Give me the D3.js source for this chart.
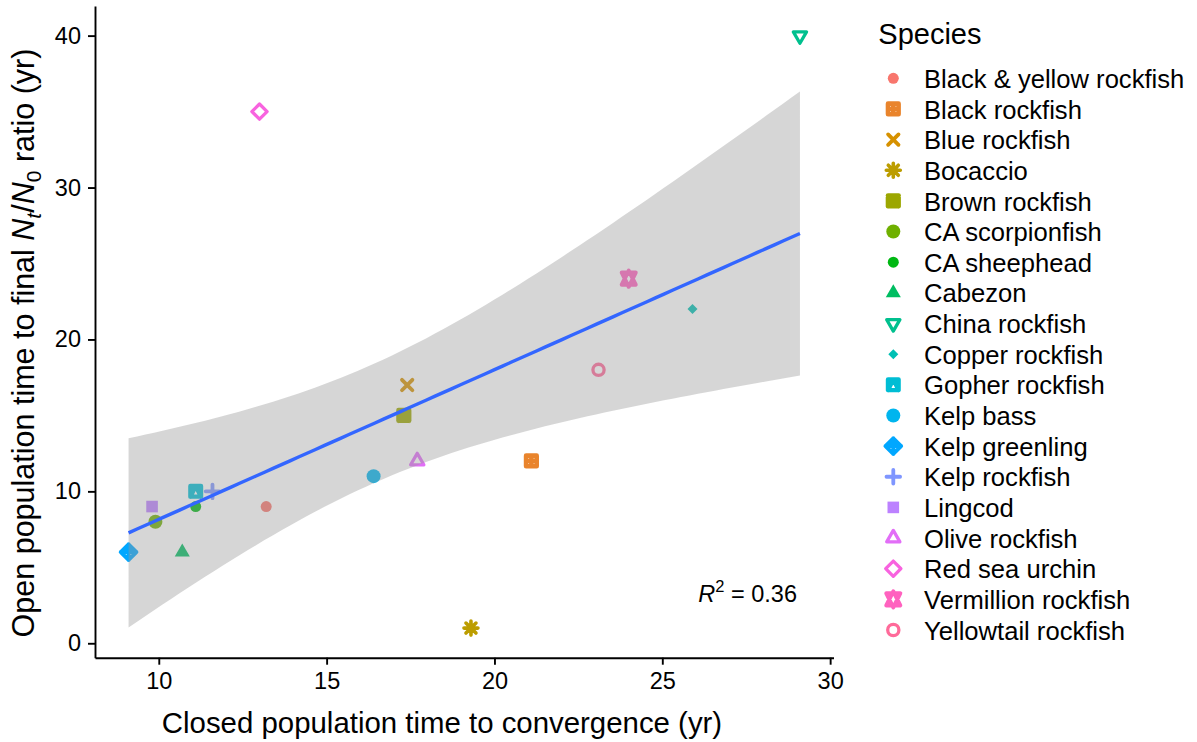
<!DOCTYPE html>
<html>
<head>
<meta charset="utf-8">
<script src="https://cdn.jsdelivr.net/npm/d3@7"></script>
<style>
  html, body { margin: 0; padding: 0; background: #ffffff; }
  svg { display: block; font-family: "Liberation Sans", Arial, sans-serif; }
</style>
</head>
<body>
<svg id="chart" width="1197" height="742"></svg>
<script>
// ---- data -------------------------------------------------------------
const species = [
  "Black & yellow rockfish", "Black rockfish", "Blue rockfish", "Bocaccio",
  "Brown rockfish", "CA scorpionfish", "CA sheephead", "Cabezon",
  "China rockfish", "Copper rockfish", "Gopher rockfish", "Kelp bass",
  "Kelp greenling", "Kelp rockfish", "Lingcod", "Olive rockfish",
  "Red sea urchin", "Vermillion rockfish", "Yellowtail rockfish"
];
// closed population time to convergence (yr)
const closedYears = [13.2, 21.1, 17.4, 19.3, 17.3, 9.9, 11.1, 10.7, 29.1, 25.9,
                     11.1, 16.4, 9.1, 11.6, 9.8, 17.7, 13.0, 24.0, 23.1];
// open population time to final Nt/N0 ratio (yr)
const openYears   = [9, 12, 17, 1, 15, 8, 9, 6, 40, 22,
                     10, 11, 6, 10, 9, 12, 35, 24, 18];
const xTicks = [10, 15, 20, 25, 30];
const yTicks = [0, 10, 20, 30, 40];

// ---- styles -------------------------------------------------------------
// point shape per species (R pch equivalents)
const shapeOf = {
  "Black & yellow rockfish": "bullet",
  "Black rockfish": "boxplus",
  "Blue rockfish": "x",
  "Bocaccio": "asterisk",
  "Brown rockfish": "boxx",
  "CA scorpionfish": "circle",
  "CA sheephead": "bullet",
  "Cabezon": "tri",
  "China rockfish": "tridown",
  "Copper rockfish": "smalldiamond",
  "Gopher rockfish": "boxtri",
  "Kelp bass": "circle",
  "Kelp greenling": "diamondplus",
  "Kelp rockfish": "plus",
  "Lingcod": "square",
  "Olive rockfish": "triopen",
  "Red sea urchin": "diamondopen",
  "Vermillion rockfish": "hexagram",
  "Yellowtail rockfish": "ring"
};

// polar LUV (R's hcl) -> sRGB hex, used for the evenly spaced hue palette
function hclLuv(h, c, l) {
  const Xn = 95.047, Yn = 100.0, Zn = 108.883;
  const un = 4 * Xn / (Xn + 15 * Yn + 3 * Zn);
  const vn = 9 * Yn / (Xn + 15 * Yn + 3 * Zn);
  const rad = h * Math.PI / 180;
  const U = c * Math.cos(rad), V = c * Math.sin(rad);
  const Y = l > 8 ? Yn * Math.pow((l + 16) / 116, 3) : Yn * l / 903.3;
  const u = U / (13 * l) + un, v = V / (13 * l) + vn;
  const X = 9.0 * Y * u / (4 * v);
  const Z = -X / 3 - 5 * Y + 3 * Y / v;
  const lin = [
     3.240479 * X - 1.537150 * Y - 0.498535 * Z,
    -0.969256 * X + 1.875992 * Y + 0.041556 * Z,
     0.055648 * X - 0.204043 * Y + 1.057311 * Z
  ].map(t => t / 100);
  const gam = t => t <= 0.0031308 ? 12.92 * t : 1.055 * Math.pow(t, 1 / 2.4) - 0.055;
  const rgb = lin.map(t => Math.round(255 * Math.max(0, Math.min(1, gam(t)))));
  return d3.rgb(rgb[0], rgb[1], rgb[2]).formatHex();
}
const nHue = species.length;
const palette = species.map((_, i) => hclLuv(15 + i * 360 / nHue, 100, 65));
const color = d3.scaleOrdinal().domain(species).range(palette);

// ---- layout -------------------------------------------------------------
const panel = { left: 95, right: 833.5, top: 6, bottom: 657.7 };

const svg = d3.select("#chart");

const xExt = d3.extent(closedYears), yExt = d3.extent(openYears);
const xPad = (xExt[1] - xExt[0]) * 0.05, yPad = (yExt[1] - yExt[0]) * 0.05;
const x = d3.scaleLinear().domain([xExt[0] - xPad, xExt[1] + xPad]).range([panel.left, panel.right]);
const y = d3.scaleLinear().domain([yExt[0] - yPad, yExt[1] + yPad]).range([panel.bottom, panel.top]);

// ---- linear fit with 95% confidence band -------------------------------
const n = closedYears.length;
const mx = d3.mean(closedYears), my = d3.mean(openYears);
let sxx = 0, sxy = 0, syy = 0;
for (let i = 0; i < n; i++) {
  const dx = closedYears[i] - mx, dy = openYears[i] - my;
  sxx += dx * dx; sxy += dx * dy; syy += dy * dy;
}
const slope = sxy / sxx, intercept = my - slope * mx;
const rss = syy - slope * sxy;
const sigma = Math.sqrt(rss / (n - 2));
const tCrit = 2.109816; // t(0.975, df = 17)
const rSquared = (sxy * sxy) / (sxx * syy);

const fitPts = d3.range(80).map(k => {
  const xv = xExt[0] + (xExt[1] - xExt[0]) * k / 79;
  const fit = intercept + slope * xv;
  const se = sigma * Math.sqrt(1 / n + (xv - mx) * (xv - mx) / sxx);
  return { x: xv, fit, lo: fit - tCrit * se, hi: fit + tCrit * se };
});

// ---- symbol drawing -----------------------------------------------------
function drawSymbol(g, shape, col) {
  const strokeOnly = (d, w) => g.append("path").attr("d", d)
      .attr("fill", "none").attr("stroke", col).attr("stroke-width", w)
      .attr("stroke-linecap", "round").attr("stroke-linejoin", "round");
  const filled = d => g.append("path").attr("d", d).attr("fill", col);
  const triPts = (s, down) => {
    const r = 1.555 * s, xc = 1.347 * s, yc = 0.778 * s, k = down ? 1 : -1;
    return `M0,${k * r}L${xc},${-k * yc}L${-xc},${-k * yc}Z`;
  };
  // two superimposed triangles, each stretched so apex and base straddle the centre
  const starPts = s => {
    const r = 1.555 * s, xc = 1.347 * s, yb = 0.5 * (0.778 + 1.555) * s;
    return `M0,${-r}L${xc},${yb}L${-xc},${yb}Z` +
           `M0,${r}L${xc},${-yb}L${-xc},${-yb}Z`;
  };
  switch (shape) {
    case "bullet":
      g.append("circle").attr("r", 5.5).attr("fill", col); break;
    case "circle":
      g.append("circle").attr("r", 7).attr("fill", col); break;
    case "ring":
      g.append("circle").attr("r", 5.6).attr("fill", "none")
        .attr("stroke", col).attr("stroke-width", 3.3); break;
    case "square":
      filled("M-5.8,-5.8H5.8V5.8H-5.8Z"); break;
    case "boxplus":
      strokeOnly("M-5.3,-5.3H5.3V5.3H-5.3ZM0,-5.3V5.3M-5.3,0H5.3", 4.6); break;
    case "boxx":
      strokeOnly("M-5.3,-5.3H5.3V5.3H-5.3ZM-5.3,-5.3L5.3,5.3M5.3,-5.3L-5.3,5.3", 4.6); break;
    case "boxtri":
      strokeOnly("M-5.3,-5.3H5.3V5.3H-5.3ZM-5.3,5.3L0,-5.3L5.3,5.3", 4.4); break;
    case "x":
      strokeOnly("M-5.2,-5.2L5.2,5.2M5.2,-5.2L-5.2,5.2", 3.8); break;
    case "plus":
      strokeOnly("M-6.8,0H6.8M0,-6.8V6.8", 3.8); break;
    case "asterisk":
      strokeOnly("M-7,0H7M0,-7V7M-5,-5L5,5M5,-5L-5,5", 3.6); break;
    case "tri":
      filled(triPts(5.6, false)); break;
    case "triopen":
      strokeOnly(triPts(4.9, false), 3.3); break;
    case "tridown":
      strokeOnly(triPts(4.9, true), 3.3); break;
    case "smalldiamond":
      filled("M0,-5L5,0L0,5L-5,0Z"); break;
    case "diamondplus":
      strokeOnly("M0,-7.8L7.8,0L0,7.8L-7.8,0ZM0,-7.8V7.8M-7.8,0H7.8", 4); break;
    case "diamondopen":
      strokeOnly("M0,-7.6L7.6,0L0,7.6L-7.6,0Z", 3.3); break;
    case "hexagram":
      strokeOnly(starPts(5.2), 4); break;
  }
}

// ---- points (drawn beneath the confidence band) ------------------------
const pts = svg.append("g");
species.forEach((sp, i) => {
  const g = pts.append("g")
    .attr("transform", `translate(${x(closedYears[i])},${y(openYears[i])})`);
  drawSymbol(g, shapeOf[sp], color(sp));
});

// ---- confidence band and fitted line -----------------------------------
svg.append("path")
  .datum(fitPts)
  .attr("fill", "#999999")
  .attr("fill-opacity", 0.4)
  .attr("d", d3.area().x(d => x(d.x)).y0(d => y(d.lo)).y1(d => y(d.hi)));

svg.append("path")
  .datum(fitPts)
  .attr("fill", "none")
  .attr("stroke", "#3366FF")
  .attr("stroke-width", 3.4)
  .attr("d", d3.line().x(d => x(d.x)).y(d => y(d.fit)));

// ---- R^2 annotation -----------------------------------------------------
const rt = svg.append("text")
  .attr("x", 797).attr("y", 601.5)
  .attr("text-anchor", "end")
  .attr("font-size", 23.5).attr("fill", "#000");
rt.append("tspan").attr("font-style", "italic").text("R");
rt.append("tspan").attr("font-size", 16.5).attr("dy", -10).text("2");
rt.append("tspan").attr("dy", 10).text(" = " + d3.format(".2f")(rSquared));

// ---- axes ---------------------------------------------------------------
const xAxis = svg.append("g")
  .attr("transform", `translate(0,${panel.bottom})`)
  .call(d3.axisBottom(x).tickValues(xTicks).tickSize(7).tickPadding(8).tickSizeOuter(0));
const yAxis = svg.append("g")
  .attr("transform", `translate(${panel.left},0)`)
  .call(d3.axisLeft(y).tickValues(yTicks).tickSize(7).tickPadding(7).tickSizeOuter(0));

[xAxis, yAxis].forEach(ax => {
  ax.select(".domain").attr("stroke", "#000").attr("stroke-width", 1.9);
  ax.selectAll(".tick line").attr("stroke", "#000").attr("stroke-width", 1.9);
  ax.selectAll(".tick text")
    .attr("font-family", "Liberation Sans, Arial, sans-serif")
    .attr("font-size", 23.5).attr("fill", "#000");
});

// axis titles
svg.append("text")
  .attr("x", 442).attr("y", 733)
  .attr("text-anchor", "middle")
  .attr("font-size", 29.4).attr("fill", "#000")
  .text("Closed population time to convergence (yr)");

const yt = svg.append("text")
  .attr("transform", "translate(33.5,343) rotate(-90)")
  .attr("text-anchor", "middle")
  .attr("font-size", 30.5).attr("fill", "#000");
yt.append("tspan").text("Open population time to final ");
yt.append("tspan").attr("font-style", "italic").text("N");
yt.append("tspan").attr("font-style", "italic").attr("font-size", 21).attr("dy", 7).text("t");
yt.append("tspan").attr("dy", -7).text("/");
yt.append("tspan").attr("font-style", "italic").text("N");
yt.append("tspan").attr("font-size", 21).attr("dy", 7).text("0");
yt.append("tspan").attr("dy", -7).text(" ratio (yr)");

// ---- legend -------------------------------------------------------------
const legend = svg.append("g");
legend.append("text")
  .attr("x", 878.3).attr("y", 44.3)
  .attr("font-size", 29).attr("fill", "#000")
  .text("Species");

const rowY = d3.scalePoint().domain(species).range([78.3, 630]);
species.forEach(sp => {
  const g = legend.append("g").attr("transform", `translate(893.3,${rowY(sp)})`);
  drawSymbol(g, shapeOf[sp], color(sp));
  legend.append("text")
    .attr("x", 924).attr("y", rowY(sp) + 9.6)
    .attr("font-size", 25.6).attr("fill", "#000")
    .text(sp);
});
</script>
</body>
</html>
